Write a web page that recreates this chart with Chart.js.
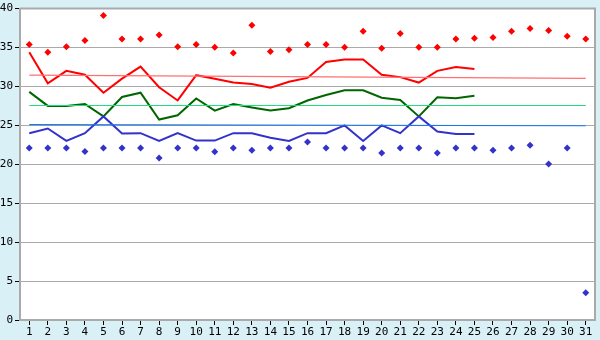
<!DOCTYPE html>
<html>
<head>
<meta charset="utf-8">
<script src="https://cdn.jsdelivr.net/npm/chart.js@4/dist/chart.umd.min.js"></script>
<style>
    html, body { margin: 0; padding: 0; background: #daf0f7; }
    #wrap { width: 600px; height: 340px; }
</style>
</head>
<body>
<div id="wrap"><canvas id="chart"></canvas></div>
<script>
// days of the month
const days = Array.from({ length: 31 }, (_, i) => String(i + 1));

// daily lines (days 1-25)
const redLine = [34.4, 30.4, 32.0, 31.5, 29.2, 31.0, 32.55, 29.9, 28.2, 31.45,
    31.0, 30.5, 30.3, 29.85, 30.6, 31.1, 33.15, 33.45, 33.45, 31.5,
    31.2, 30.5, 32.0, 32.5, 32.25];
const greenLine = [29.3, 27.5, 27.5, 27.75, 26.15, 28.65, 29.2, 25.75, 26.3, 28.45,
    26.9, 27.75, 27.3, 26.9, 27.2, 28.2, 28.9, 29.5, 29.5, 28.55,
    28.25, 26.15, 28.6, 28.5, 28.8];
const blueLine = [24.0, 24.6, 23.0, 24.0, 26.15, 23.95, 24.0, 23.0, 24.0, 23.05,
    23.05, 24.0, 24.0, 23.4, 23.0, 24.0, 24.0, 25.0, 23.0, 25.0,
    24.0, 26.15, 24.2, 23.9, 23.9];

// daily extremes (days 1-31)
const redPoints = [35.4, 34.4, 35.1, 35.9, 39.1, 36.1, 36.1, 36.6, 35.1, 35.4,
    35.05, 34.3, 37.85, 34.5, 34.7, 35.4, 35.4, 35.05, 37.1, 34.9,
    36.8, 35.05, 35.05, 36.1, 36.2, 36.3, 37.1, 37.45, 37.2, 36.45, 36.1];
const bluePoints = [22.1, 22.1, 22.1, 21.65, 22.1, 22.1, 22.1, 20.8, 22.1, 22.1,
    21.6, 22.1, 21.8, 22.1, 22.1, 22.85, 22.1, 22.1, 22.1, 21.45,
    22.1, 22.1, 21.45, 22.1, 22.1, 21.8, 22.1, 22.45, 20.05, 22.1, 3.5];

// trend lines: value at day 1 and day 31
const redTrend = [31.45, 31.05];
const greenTrend = [27.55, 27.55];
const blueTrend = [25.1, 24.95];

function trend(ends) {
    const d = new Array(days.length).fill(null);
    d[0] = ends[0];
    d[days.length - 1] = ends[1];
    return d;
}

const lineDs = (data, color, width) => ({
    type: 'line', data: data, borderColor: color, borderWidth: width,
    pointRadius: 0, tension: 0, fill: false, spanGaps: true
});
const pointDs = (data, color) => ({
    type: 'line', data: data, showLine: false, pointStyle: 'rectRot',
    pointRadius: 3.5, pointBackgroundColor: color, pointBorderColor: color, pointBorderWidth: 0
});

// white plot area plus grey frame
const plotFrame = {
    id: 'plotFrame',
    beforeDraw(chart) {
        const { ctx, chartArea: a } = chart;
        ctx.save();
        ctx.fillStyle = '#ffffff';
        ctx.fillRect(a.left, a.top, a.right - a.left, a.bottom - a.top);
        ctx.restore();
    },
    afterDraw(chart) {
        const { ctx, chartArea: a } = chart;
        ctx.save();
        ctx.strokeStyle = '#aaaaaa';
        ctx.lineWidth = 2;
        ctx.beginPath();
        ctx.moveTo(a.left, a.top);
        ctx.lineTo(a.right, a.top);
        ctx.lineTo(a.right, a.bottom);
        ctx.stroke();
        ctx.restore();
    }
};

const font = { family: 'DejaVu Sans Mono', size: 11 };

new Chart(document.getElementById('chart'), {
    type: 'line',
    data: {
        labels: days,
        datasets: [
            lineDs(trend(redTrend), '#ff7070', 1.2),
            lineDs(trend(greenTrend), '#22dd80', 1.2),
            lineDs(trend(blueTrend), '#1a78e6', 1.2),
            lineDs(blueLine, '#3333cc', 2),
            lineDs(greenLine, '#006600', 2),
            lineDs(redLine, '#ff0000', 2),
            pointDs(redPoints, '#ff0000'),
            pointDs(bluePoints, '#3333cc')
        ]
    },
    options: {
        responsive: true,
        maintainAspectRatio: false,
        animation: false,
        layout: { padding: { top: 6, right: 5, left: 0, bottom: 0 } },
        plugins: { legend: { display: false }, tooltip: { enabled: false } },
        scales: {
            x: {
                offset: true,
                grid: { drawOnChartArea: false, drawTicks: true, tickLength: 5, color: '#000000', offset: false },
                border: { color: '#aaaaaa', width: 2 },
                ticks: { color: '#000000', font: font, padding: 1, maxRotation: 0, autoSkip: false },
                afterFit: (s) => { s.height = 20; }
            },
            y: {
                min: 0, max: 40,
                grid: { color: '#aaaaaa', tickLength: 5, tickColor: '#000000' },
                border: { color: '#aaaaaa', width: 2 },
                ticks: { stepSize: 5, color: '#000000', font: font, padding: 2 },
                afterFit: (s) => { s.width = 20; }
            }
        }
    },
    plugins: [plotFrame]
});
</script>
</body>
</html>
